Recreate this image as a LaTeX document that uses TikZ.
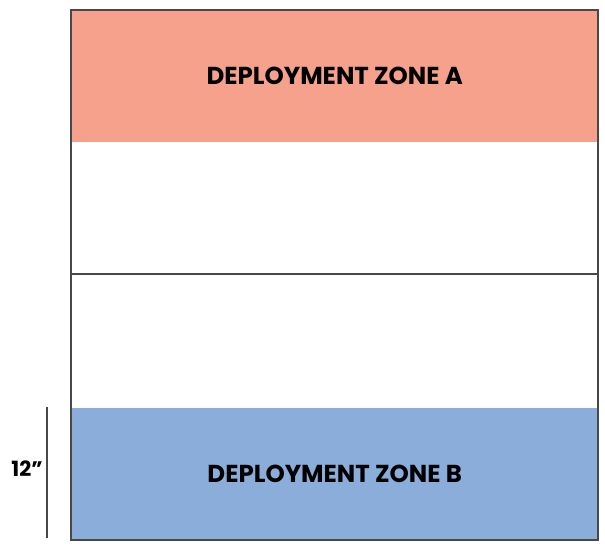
\documentclass[tikz,border=0pt]{standalone}
\usepackage{fontspec}
\setmainfont{Poppins}
\usetikzlibrary{positioning}
\definecolor{zonered}{RGB}{245,161,139}
\definecolor{zoneblue}{RGB}{139,173,218}
\definecolor{framegray}{RGB}{72,72,72}
\tikzset{
  zone/.style={minimum width=527pt, minimum height=132pt, inner sep=0pt,
    font=\bfseries\fontsize{24.5}{28}\selectfont},
  frame/.style={draw=framegray, line width=2pt},
}

\begin{document}
\begin{tikzpicture}[x=1pt,y=-1pt]
  \useasboundingbox (0,0) rectangle (605,552);
  \node[zone, fill=zonered, anchor=north west] (zoneA) at (71,10) {DEPLOYMENT ZONE A};
  \node[zone, fill=zoneblue, anchor=south west] (zoneB) at (71,540) {DEPLOYMENT ZONE B};
  \coordinate (midW) at (71,274);
  \coordinate (midE) at (598,274);
  \draw[frame] (zoneA.north west) rectangle (zoneB.south east);
  \draw[frame] (midW) -- (midE);
  % depth of zone B
  \coordinate (rulerT) at (47,407);
  \coordinate (rulerB) at (47,538);
  \draw[framegray, line width=2pt] (rulerT) -- (rulerB);
  \node[font=\bfseries\fontsize{21}{24}\selectfont, inner sep=0pt] (depth) at (27,469) {12''};
\end{tikzpicture}
\end{document}
